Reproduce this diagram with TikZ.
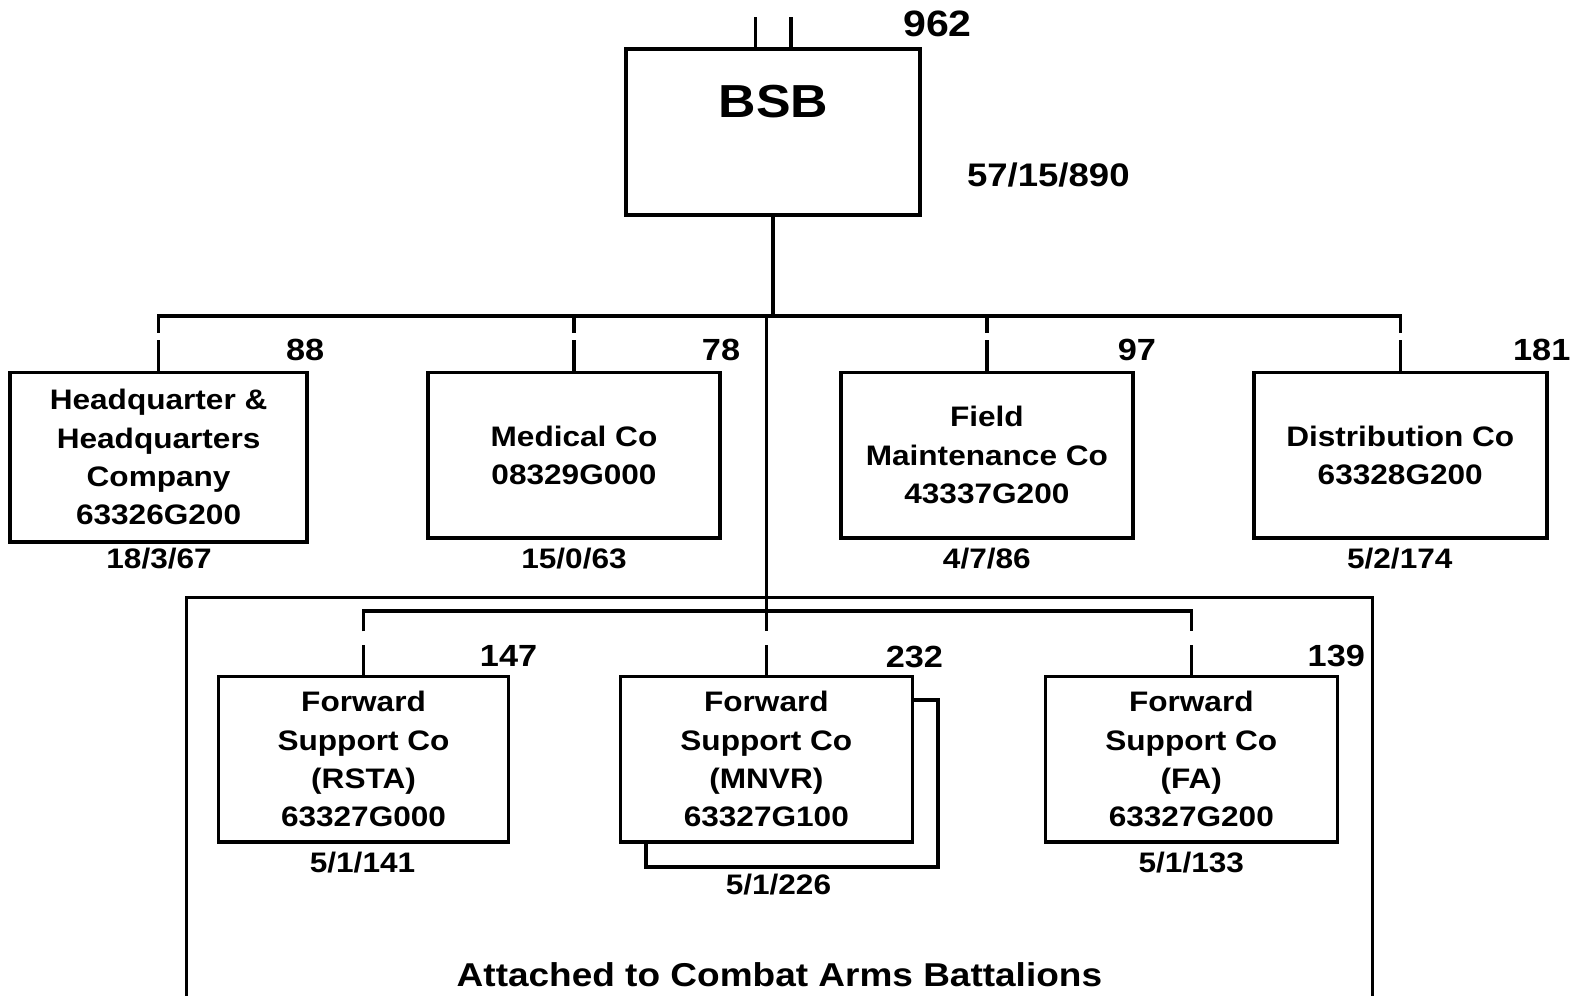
\documentclass[tikz,border=0pt]{standalone}
\usepackage{fontspec}
\setmainfont{Liberation Sans}[FakeStretch=1.12]
\usetikzlibrary{calc}
\begin{document}
\begin{tikzpicture}[x=0.5pt,y=-0.5pt,
  box/.style={draw,line width=1.75pt,fill=white,align=center,inner sep=0pt,
    font=\fontsize{14}{19}\selectfont\bfseries},
  num/.style={font=\fontsize{15.2}{18}\selectfont\bfseries,inner sep=0pt},
  sub/.style={font=\fontsize{14}{17}\selectfont\bfseries,inner sep=0pt},
  conn/.style={line width=1.7pt},
  frame/.style={line width=1.5pt}]
\useasboundingbox (0,0) rectangle (1568,989);
\fill[white] (0,0) rectangle (1568,989);

% top unit
\node[box,minimum width=146pt,minimum height=82.5pt] (bsb) at (767.6,131) {};
\node[font=\fontsize{23}{26}\selectfont\bfseries,inner sep=0pt] (bsbt) at (768,100.5) {BSB};
\node[num,font=\fontsize{18.2}{21}\selectfont\bfseries] (n962) at (931,23.5) {962};
\node[num,font=\fontsize{16.2}{19}\selectfont\bfseries] (s57) at (1041,174) {57/15/890};
\draw[conn] ($(bsb.north)+(-17.6,0)$) -- ++(0,-30);
\draw[conn] ($(bsb.north)+(17.9,0)$) -- ++(0,-30);

% first row
\node[box,minimum width=147.5pt,minimum height=84pt] (hq) at (157.5,454) {Headquarter \&\\Headquarters\\Company\\63326G200};
\node[box,minimum width=145pt,minimum height=82pt] (med) at (570,452) {Medical Co\\08329G000};
\node[box,minimum width=145pt,minimum height=82pt] (fld) at (980,452) {Field\\Maintenance Co\\43337G200};
\node[box,minimum width=145.5pt,minimum height=82pt] (dst) at (1390.5,452) {Distribution Co\\63328G200};

\node[num] (n88) at (303,348) {88};
\node[num] (n78) at (716,348) {78};
\node[num] (n97) at (1129,348) {97};
\node[num] (n181) at (1531,348) {181};

\node[sub] (s88) at (158,555) {18/3/67};
\node[sub] (s78) at (570,555) {15/0/63};
\node[sub] (s97) at (980,555) {4/7/86};
\node[sub] (s181) at (1390,555) {5/2/174};

% bus row 1
\foreach \n in {hq,med,fld,dst}{
  \draw[conn] (\n.north) -- ++(0,-30.8);
  \coordinate (\n-gap) at ($(\n.north)+(0,-37.7)$);
}
\coordinate (hq-bus) at ($(hq.north)+(0,-54.5)$);
\coordinate (med-bus) at ($(med.north)+(0,-54.5)$);
\coordinate (fld-bus) at ($(fld.north)+(0,-54.5)$);
\coordinate (dst-bus) at ($(dst.north)+(0,-54.5)$);
\draw[conn] (hq-gap) -- (hq-bus) -- (dst-bus) -- (dst-gap);
\draw[conn] (med-gap) -- (med-bus);
\draw[conn] (fld-gap) -- (fld-bus);
\coordinate (trunk) at (bsb.south |- hq-bus);
\draw[conn] (bsb.south) -- (trunk);

% attached frame
\draw[frame] (185,995) -- (185,593) -- (1363,593) -- (1363,995);
\node[font=\fontsize{16.4}{19}\selectfont\bfseries,inner sep=0pt] (att) at (774,968) {Attached to Combat Arms Battalions};

% second row
\node[box,minimum width=145pt,minimum height=83pt] (mnvrs) at (786.5,778) {};
\node[box,minimum width=144pt,minimum height=82pt] (rsta) at (361,754) {Forward\\Support Co\\(RSTA)\\63327G000};
\node[box,minimum width=145pt,minimum height=82pt] (mnvr) at (761,754) {Forward\\Support Co\\(MNVR)\\63327G100};
\node[box,minimum width=145pt,minimum height=82pt] (fa) at (1183,754) {Forward\\Support Co\\(FA)\\63327G200};

\node[num] (n147) at (505,651) {147};
\node[num] (n232) at (908,652) {232};
\node[num] (n139) at (1327,651) {139};

\node[sub] (s147) at (360,857) {5/1/141};
\node[sub] (s232) at (773,878) {5/1/226};
\node[sub] (s139) at (1183,857) {5/1/133};

% bus row 2
\foreach \n in {rsta,mnvr,fa}{
  \draw[conn] (\n.north) -- ++(0,-29.5);
  \coordinate (\n-gap) at ($(\n.north)+(0,-43.4)$);
  \coordinate (\n-bus) at ($(\n.north)+(0,-63.3)$);
}
\draw[conn] (rsta-gap) -- (rsta-bus) -- (fa-bus) -- (fa-gap);
\coordinate (trunk2) at (mnvr.north |- hq-bus);
\draw[conn] (trunk2) -- (mnvr-gap);
\end{tikzpicture}
\end{document}
